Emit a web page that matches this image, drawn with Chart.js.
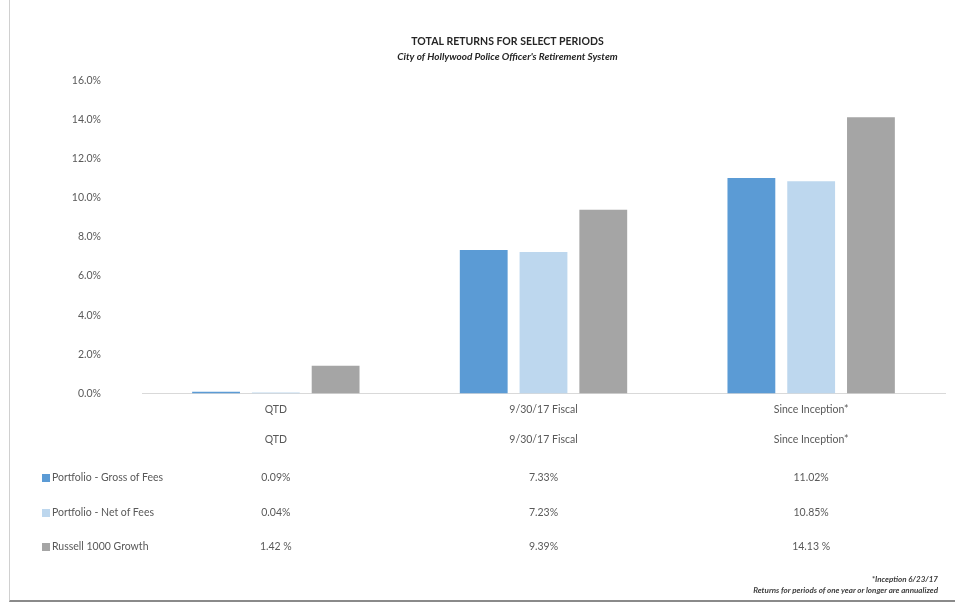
<!DOCTYPE html>
<html>
<head>
<meta charset="utf-8">
<script src="https://cdn.jsdelivr.net/npm/chart.js@4.4.1/dist/chart.umd.min.js"></script>
<style>
    html, body { margin: 0; padding: 0; background: #ffffff; }
    #wrap {
        position: relative;
        width: 955px;
        height: 603px;
        overflow: hidden;
        font-family: Lato, "Open Sans", sans-serif;
        color: #595959;
    }
    #frame {
        position: absolute;
        left: 9px; top: 0; right: 0; bottom: 1px;
        border-left: 1px solid #d0d0d0;
        border-bottom: 2px solid #8a8a8a;
        pointer-events: none;
    }
    #chart { position: absolute; left: 0; top: 0; }
    .cell {
        position: absolute;
        font-size: 10.5px;
        white-space: nowrap;
        transform: translate(-50%, -50%);
    }
    .rowlabel {
        position: absolute;
        left: 42px;
        font-size: 10.5px;
        white-space: nowrap;
        transform: translateY(-50%);
    }
    .swatch {
        display: inline-block;
        width: 8px; height: 8px;
        margin-right: 2px;
        vertical-align: -0.5px;
    }
    .note {
        position: absolute;
        right: 17px;
        font-size: 8px;
        font-style: italic;
        font-weight: bold;
        color: #404040;
        white-space: nowrap;
    }
</style>
</head>
<body>
<div id="wrap">
    <canvas id="chart" width="955" height="603"></canvas>
    <div id="table"></div>
    <div class="note" style="top:574px;">*Inception 6/23/17</div>
    <div class="note" style="top:585px;">Returns for periods of one year or longer are annualized</div>
    <div id="frame"></div>
</div>

<script>
// Data
const PERIODS = ['QTD', '9/30/17 Fiscal', 'Since Inception*'];
const GROSS_FEES = [0.09, 7.33, 11.02];
const NET_FEES = [0.04, 7.23, 10.85];
const RUSSELL_1000 = [1.42, 9.39, 14.13];
const GROSS_LABELS = ['0.09%', '7.33%', '11.02%'];
const NET_LABELS = ['0.04%', '7.23%', '10.85%'];
const RUSSELL_LABELS = ['1.42 %', '9.39%', '14.13 %'];
const Y_TICKS = [0, 2, 4, 6, 8, 10, 12, 14, 16];

const COLORS = {
    gross: '#5b9bd5',
    net: '#bdd7ee',
    russell: '#a5a5a5'
};

const FONT_FAMILY = 'Lato, "Open Sans", sans-serif';

const chart = new Chart(document.getElementById('chart'), {
    type: 'bar',
    data: {
        labels: PERIODS,
        datasets: [
            { label: 'Portfolio - Gross of Fees', data: GROSS_FEES, backgroundColor: COLORS.gross },
            { label: 'Portfolio - Net of Fees', data: NET_FEES, backgroundColor: COLORS.net },
            { label: 'Russell 1000 Growth', data: RUSSELL_1000, backgroundColor: COLORS.russell }
        ]
    },
    options: {
        responsive: false,
        animation: false,
        devicePixelRatio: 1,
        categoryPercentage: 0.67,
        barPercentage: 0.8,
        layout: { padding: { left: 70, right: 10, top: 0, bottom: 177 } },
        plugins: {
            legend: { display: false },
            tooltip: { enabled: false },
            title: {
                display: true,
                text: 'TOTAL RETURNS FOR SELECT PERIODS',
                color: '#262626',
                font: { family: FONT_FAMILY, size: 10.5, weight: 'bold' },
                padding: { top: 35, bottom: 2 }
            },
            subtitle: {
                display: true,
                text: "City of Hollywood Police Officer's Retirement System",
                color: '#262626',
                font: { family: FONT_FAMILY, size: 10, style: 'italic', weight: 'bold' },
                padding: { top: 1, bottom: 18 }
            }
        },
        scales: {
            x: {
                grid: { display: false, drawTicks: false },
                border: { display: true, color: '#d9d9d9', width: 1 },
                ticks: {
                    color: '#595959',
                    padding: 10,
                    font: { family: FONT_FAMILY, size: 10.5 }
                }
            },
            y: {
                min: 0,
                max: 16,
                afterFit: (scale) => { scale.width = 72; },
                afterBuildTicks: (scale) => {
                    scale.ticks = Y_TICKS.map(v => ({ value: v }));
                },
                grid: { display: false, drawTicks: false },
                border: { display: false },
                ticks: {
                    color: '#595959',
                    padding: 41,
                    font: { family: FONT_FAMILY, size: 10.5 },
                    callback: (v) => v.toFixed(1) + '%'
                }
            }
        }
    }
});

// ======================
// Data table under chart
// ======================

function buildTable() {
    const table = document.getElementById('table');
    const xScale = chart.scales.x;
    const rows = [
        { name: 'Portfolio - Gross of Fees', color: COLORS.gross, values: GROSS_LABELS, y: 477 },
        { name: 'Portfolio - Net of Fees', color: COLORS.net, values: NET_LABELS, y: 512 },
        { name: 'Russell 1000 Growth', color: COLORS.russell, values: RUSSELL_LABELS, y: 546 }
    ];

    PERIODS.forEach((period, i) => {
        addCell(table, period, xScale.getPixelForValue(i), 439);
    });

    rows.forEach(row => {
        const label = document.createElement('div');
        label.className = 'rowlabel';
        label.style.top = row.y + 'px';
        label.innerHTML = `<span class="swatch" style="background:${row.color}"></span>${row.name}`;
        table.appendChild(label);

        row.values.forEach((text, i) => {
            addCell(table, text, xScale.getPixelForValue(i), row.y);
        });
    });
}

function addCell(container, text, x, y) {
    const cell = document.createElement('div');
    cell.className = 'cell';
    cell.style.left = x + 'px';
    cell.style.top = y + 'px';
    cell.textContent = text;
    container.appendChild(cell);
}

buildTable();
</script>
</body>
</html>
